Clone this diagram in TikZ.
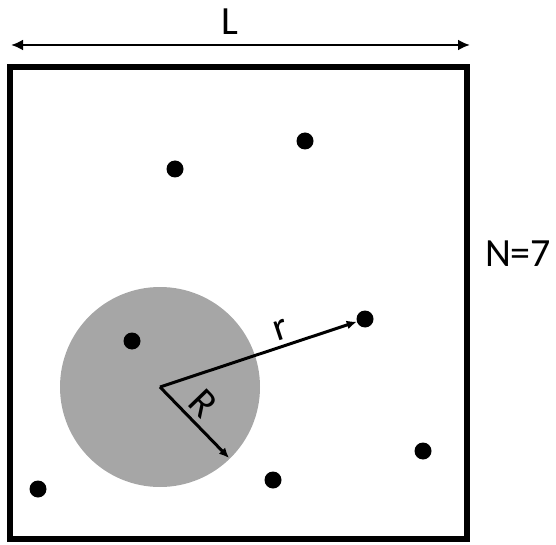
\documentclass[tikz,border=0pt]{standalone}
\usepackage{fontspec}
\setmainfont{Carlito}
\usepackage{tikz}
\usetikzlibrary{arrows.meta,positioning,calc}
\definecolor{shade}{RGB}{166,166,166}
\tikzset{
  particle/.style={circle, fill=black, inner sep=0pt, minimum size=17pt},
  region/.style={circle, fill=shade, inner sep=0pt, minimum size=200pt},
  boxline/.style={line width=5.5pt},
  dimarrow/.style={{Latex[length=12pt,width=11pt]}-{Latex[length=12pt,width=11pt]}, line width=2.6pt},
  radarrow/.style={-{Latex[length=10pt,width=9pt]}, line width=3pt},
  biglabel/.style={font=\fontsize{40}{44}\selectfont, inner sep=0pt}
}
\begin{document}
\begin{tikzpicture}[x=1pt,y=1pt]
\useasboundingbox (0,0) rectangle (556,544);
% simulation box
\draw[boxline] (10,5) rectangle (467,477);
\coordinate (lleft) at (11,499);
\coordinate (lright) at (470,499);
\draw[dimarrow] (lleft) -- (lright);
\node[biglabel] (lab) at (230,522) {L};
\node[biglabel] (count) at (518,290) {N=7};
% interaction region
\node[region] (zone) at (160,157) {};
\coordinate (c) at (160,157);
% particles
\node[particle] (p1) at (305,403) {};
\node[particle] (p2) at (175,375) {};
\node[particle] (p3) at (365,225) {};
\node[particle] (p4) at (132,203) {};
\node[particle] (p5) at (423,93) {};
\node[particle] (p6) at (273,64) {};
\node[particle] (p7) at (38,55) {};
% radii
\coordinate (rim) at ($(c)+(-45.8:99)$);
\draw[radarrow] (c) -- (p3) node[pos=0.64, above=5pt, sloped, biglabel] {r};
\draw[radarrow] (c) -- (rim);
\node[biglabel, rotate=-46] (bigr) at (203,141) {R};
\end{tikzpicture}
\end{document}
